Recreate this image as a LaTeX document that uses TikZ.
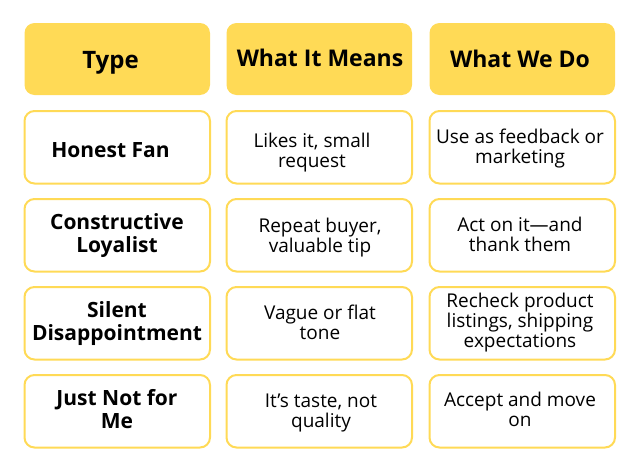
\documentclass[tikz,border=0pt]{standalone}
\usepackage{fontspec}
\setmainfont{Open Sans}
\definecolor{cardyellow}{HTML}{FFDA56}
\tikzset{
	headcard/.style={draw=none,fill=cardyellow,rounded corners=10pt},
	bodycard/.style={draw=cardyellow,line width=2pt,fill=white,rounded corners=10pt},
	headtext/.style={align=center,inner sep=0pt,font=\fontsize{23}{28}\selectfont\bfseries},
	typetext/.style={align=center,inner sep=0pt,font=\fontsize{21}{23}\selectfont\bfseries},
	bodytext/.style={align=center,inner sep=0pt,font=\fontsize{19}{20}\selectfont},
}
\begin{document}
\begin{tikzpicture}[x=1pt,y=-1pt]
			\useasboundingbox (0,0) rectangle (641,474);
			% header cards
			\foreach \x in {24.5,226.5,429.5}{
				\fill[headcard] (\x,23) rectangle (\x+185.5,95);
			}
			% body cards
			\foreach \y in {111,199,287,375}{
				\foreach \x in {24.5,226.5,429.5}{
					\draw[bodycard] (\x,\y) rectangle (\x+185.5,\y+72.5);
				}
			}
			% header
			\node[headtext,font=\fontsize{24}{28}\selectfont\bfseries] (headtype) at (110.5,63) {Type};
			\node[headtext] (headmeans) at (320,58) {What It Means};
			\node[headtext] (headdo) at (520,59) {What We Do};
			% type
			\node[typetext] (typefan) at (110.5,150) {Honest Fan};
			\node[typetext] (typeloyal) at (117,236) {Constructive\\Loyalist};
			\node[typetext] (typesilent) at (117,324) {Silent\\Disappointment};
			\node[typetext] (typenot) at (117,409) {Just Not for\\Me};
			% what it means
			\node[bodytext] (meanfan) at (312,152.5) {Likes it, small\\request};
			\node[bodytext] (meanloyal) at (320,237.5) {Repeat buyer,\\valuable tip};
			\node[bodytext] (meansilent) at (320,322.5) {Vague or flat\\tone};
			\node[bodytext] (meannot) at (321,412.5) {It’s taste, not\\quality};
			% what we do
			\node[bodytext] (dofan) at (520,148.5) {Use as feedback or\\marketing};
			\node[bodytext] (doloyal) at (520,234.5) {Act on it—and\\thank them};
			\node[bodytext] (dosilent) at (520,322.5) {Recheck product\\listings, shipping\\expectations};
			\node[bodytext] (donot) at (520,409.5) {Accept and move\\on};
\end{tikzpicture}
\end{document}
